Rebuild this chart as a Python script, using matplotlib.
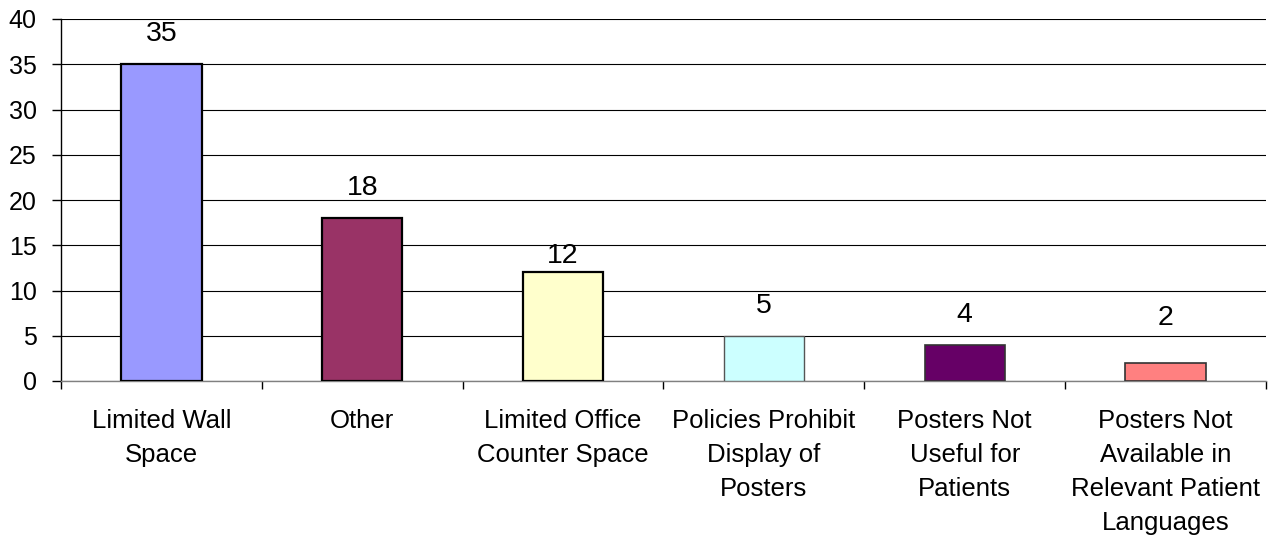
import matplotlib
matplotlib.use("Agg")
import matplotlib.pyplot as plt
import numpy as np

categories = ["Limited Wall\nSpace", "Other", "Limited Office\nCounter Space",
              "Policies Prohibit\nDisplay of\nPosters", "Posters Not\nUseful for\nPatients",
              "Posters Not\nAvailable in\nRelevant Patient\nLanguages"]
values = [35, 18, 12, 5, 4, 2]
colors = ["#9999FF", "#993366", "#FFFFCC", "#CCFFFF", "#660066", "#FF8080"]
edge_widths = [1.6, 1.6, 1.6, 1.0, 1.2, 1.2]
edge_colors = ["black", "black", "black", "#555555", "#333333", "#333333"]
label_offsets_px = [30, 30, 16, 30, 30, 45]
yticks = [0, 5, 10, 15, 20, 25, 30, 35, 40]

plt.rcParams['font.family'] = ['Liberation Sans', 'DejaVu Sans']

fig = plt.figure(figsize=(12.68, 5.39), dpi=100)
ax = fig.add_axes([61/1268, 1 - 381/539, (1266 - 61)/1268, (381 - 19)/539])

x = np.arange(len(values))
ax.bar(x, values, width=0.4, color=colors, edgecolor=edge_colors,
       linewidth=edge_widths, zorder=3)

for xi, v, off in zip(x, values, label_offsets_px):
    ax.annotate(str(v), (xi, v), xytext=(0, off * 0.72), textcoords="offset points",
                ha="center", va="center", fontsize=20.5, zorder=4)

ax.set_xlim(-0.5, len(values) - 0.5)
ax.set_ylim(0, 40)
ax.set_yticks(yticks)
ax.yaxis.grid(True, color="black", linewidth=0.8, zorder=0)
ax.set_axisbelow(True)

ax.set_xticks(x)
ax.set_xticklabels(categories, fontsize=18.5, linespacing=1.52)
ax.tick_params(axis="x", which="major", length=0, pad=20.5)
ax.set_xticks(np.arange(-0.5, len(values)), minor=True)
ax.tick_params(axis="x", which="minor", length=6, width=1, color="black", direction="out")
ax.tick_params(axis="y", length=6.5, width=1, color="black", direction="out", pad=11,
               labelsize=18)

for s in ["top", "right"]:
    ax.spines[s].set_visible(False)
ax.spines["bottom"].set_color("#808080")
ax.spines["bottom"].set_linewidth(1)
ax.spines["left"].set_color("black")
ax.spines["left"].set_linewidth(1)

fig.savefig("out.png", dpi=100)
